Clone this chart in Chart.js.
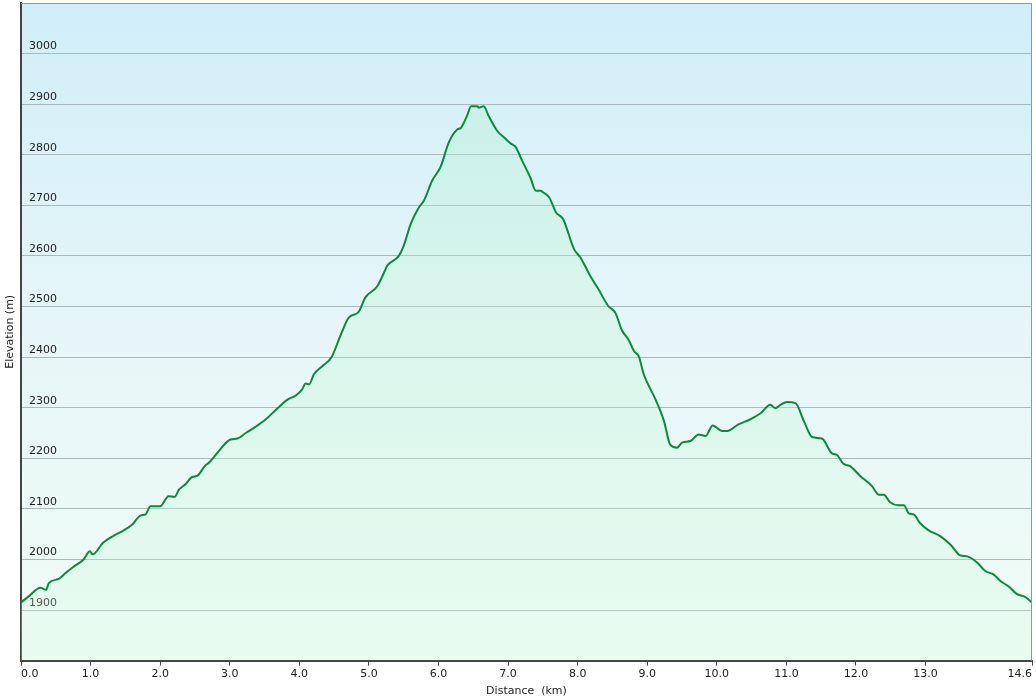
<!DOCTYPE html>
<html lang="en">

<head>
    <meta charset="UTF-8">
    <title>Elevation Profile</title>
    <script src="https://cdn.jsdelivr.net/npm/chart.js"></script>
    <style>
        body { margin: 0; background: #fff; }
        .chart-box { width: 1036px; height: 700px; position: relative; }
    </style>
</head>

<body>
    <div class="chart-box">
        <canvas id="profileChart"></canvas>
    </div>

    <script>
        // Distance along the route (km)
        const distKm = [0, 0.11, 0.28, 0.36, 0.40, 0.55, 0.64, 0.76, 0.90, 0.99, 1.03, 1.18, 1.36, 1.46, 1.60,
            1.72, 1.79, 1.86, 2.00, 2.12, 2.21, 2.27, 2.36, 2.46, 2.53, 2.65, 2.70, 2.80, 3.01, 3.11, 3.23, 3.37,
            3.51, 3.68, 3.83, 3.95, 4.04, 4.09, 4.14, 4.21, 4.33, 4.46, 4.59, 4.71, 4.85, 4.95, 5.12, 5.24, 5.26,
            5.43, 5.50, 5.60, 5.72, 5.79, 5.91, 6.03, 6.15, 6.27, 6.32, 6.41, 6.47, 6.56, 6.58, 6.65, 6.72, 6.84,
            6.96, 7.04, 7.11, 7.20, 7.32, 7.40, 7.47, 7.50, 7.59, 7.69, 7.79, 7.95, 8.04, 8.18, 8.30, 8.44, 8.54,
            8.64, 8.73, 8.81, 8.88, 8.95, 9.12, 9.24, 9.33, 9.43, 9.50, 9.62, 9.74, 9.84, 9.94, 10.08, 10.15,
            10.31, 10.48, 10.63, 10.77, 10.84, 10.91, 11.01, 11.13, 11.25, 11.37, 11.51, 11.66, 11.72, 11.82,
            11.92, 12.06, 12.23, 12.33, 12.40, 12.49, 12.61, 12.69, 12.76, 12.83, 12.92, 13.04, 13.21, 13.36,
            13.50, 13.60, 13.74, 13.86, 13.98, 14.08, 14.20, 14.31, 14.43, 14.53];

        // Elevation (m)
        const elevM = [1915, 1927, 1944, 1940, 1953, 1962, 1973, 1986, 2000, 2016, 2010, 2033, 2049, 2056, 2069,
            2087, 2089, 2105, 2105, 2125, 2124, 2138, 2148, 2163, 2165, 2186, 2191, 2207, 2237, 2239, 2250, 2262,
            2276, 2298, 2316, 2324, 2336, 2348, 2346, 2366, 2382, 2399, 2442, 2478, 2489, 2518, 2540, 2574, 2580,
            2600, 2620, 2663, 2696, 2709, 2749, 2776, 2825, 2850, 2853, 2877, 2896, 2896, 2893, 2896, 2877, 2848,
            2832, 2822, 2815, 2789, 2755, 2729, 2729, 2726, 2716, 2686, 2673, 2613, 2597, 2561, 2534, 2501, 2488,
            2452, 2435, 2412, 2401, 2366, 2316, 2274, 2227, 2221, 2231, 2234, 2247, 2244, 2265, 2254, 2254,
            2267, 2277, 2289, 2306, 2299, 2305, 2311, 2309, 2274, 2242, 2239, 2209, 2207, 2189,
            2184, 2165, 2145, 2128, 2128, 2113, 2107, 2107, 2091, 2089, 2072, 2058, 2046, 2029,
            2008, 2006, 1994, 1977, 1970, 1957, 1946, 1932, 1926, 1915];

        // X axis ticks (km) and their labels
        const xTickValues = [0, 1, 2, 3, 4, 5, 6, 7, 8, 9, 10, 11, 12, 13, 14.53];
        const xTickLabels = ['0.0', '1.0', '2.0', '3.0', '4.0', '5.0', '6.0', '7.0', '8.0', '9.0', '10.0',
            '11.0', '12.0', '13.0', '14.6'];

        // Y axis range and labelled ticks
        const yMin = 1800;
        const yMax = 3100;
        const yLabelled = [1900, 2000, 2100, 2200, 2300, 2400, 2500, 2600, 2700, 2800, 2900, 3000];

        const points = distKm.map((d, i) => ({ x: d, y: elevM[i] }));

        // sky gradient behind the plot + thin frame on top / right
        const plotBackground = {
            id: 'plotBackground',
            beforeDraw(chart) {
                const { ctx, chartArea: a } = chart;
                const g = ctx.createLinearGradient(0, a.top, 0, a.bottom);
                g.addColorStop(0, '#d0eef8');
                g.addColorStop(0.5, '#e6f6f8');
                g.addColorStop(1, '#f0fcf5');
                ctx.save();
                ctx.fillStyle = g;
                ctx.fillRect(a.left, a.top, a.right - a.left, a.bottom - a.top);
                ctx.restore();
            },
            afterDraw(chart) {
                const { ctx, chartArea: a } = chart;
                ctx.save();
                ctx.strokeStyle = '#8a9a9e';
                ctx.lineWidth = 1;
                ctx.beginPath();
                ctx.moveTo(a.left, a.top + 0.5);
                ctx.lineTo(a.right - 0.5, a.top + 0.5);
                ctx.lineTo(a.right - 0.5, a.bottom);
                ctx.stroke();
                ctx.restore();
            }
        };

        Chart.defaults.font.family = '"DejaVu Sans", Verdana, sans-serif';
        Chart.defaults.font.size = 11;
        Chart.defaults.color = '#222';

        const ctx = document.getElementById('profileChart').getContext('2d');
        new Chart(ctx, {
            type: 'line',
            data: {
                datasets: [{
                    data: points,
                    borderColor: '#0b8a3c',
                    borderWidth: 2,
                    pointRadius: 0,
                    cubicInterpolationMode: 'monotone',
                    fill: 'start',
                    backgroundColor: function (context) {
                        const a = context.chart.chartArea;
                        if (!a) return 'rgba(180,240,200,0.3)';
                        const g = context.chart.ctx.createLinearGradient(0, a.top, 0, a.bottom);
                        g.addColorStop(0, 'rgba(170,240,200,0.35)');
                        g.addColorStop(1, 'rgba(210,250,220,0.25)');
                        return g;
                    }
                }]
            },
            options: {
                responsive: true,
                maintainAspectRatio: false,
                animation: false,
                layout: { padding: { top: 3, right: 4, left: 0, bottom: 0 } },
                plugins: {
                    legend: { display: false },
                    tooltip: { enabled: false }
                },
                scales: {
                    x: {
                        type: 'linear',
                        min: 0,
                        max: 14.53,
                        afterBuildTicks: scale => {
                            scale.ticks = xTickValues.map(v => ({ value: v }));
                        },
                        afterFit: scale => {
                            scale.paddingLeft = 0;
                            scale.paddingRight = 0;
                        },
                        ticks: {
                            align: 'inner',
                            padding: 2,
                            maxRotation: 0,
                            autoSkip: false,
                            color: '#222',
                            callback: (v, i) => xTickLabels[i]
                        },
                        grid: { drawOnChartArea: false, tickLength: 5, color: '#444', lineWidth: 1 },
                        border: { color: '#444', width: 2 },
                        title: { display: true, text: 'Distance  (km)', padding: { top: 2, bottom: 2 }, color: '#222' }
                    },
                    y: {
                        min: yMin,
                        max: yMax,
                        afterFit: scale => {
                            scale.width = 21;
                            scale.paddingTop = 0;
                            scale.paddingBottom = 0;
                        },
                        ticks: {
                            stepSize: 100,
                            mirror: true,
                            padding: 8,
                            labelOffset: -7,
                            color: '#222',
                            callback: v => yLabelled.includes(v) ? String(v) : ''
                        },
                        grid: { drawTicks: false, color: '#a9b9bd', lineWidth: 1 },
                        border: { color: '#444', width: 2 },
                        title: { display: true, text: 'Elevation (m)', padding: { top: 4, bottom: 4 }, color: '#222' }
                    }
                }
            },
            plugins: [plotBackground]
        });
    </script>
</body>

</html>
